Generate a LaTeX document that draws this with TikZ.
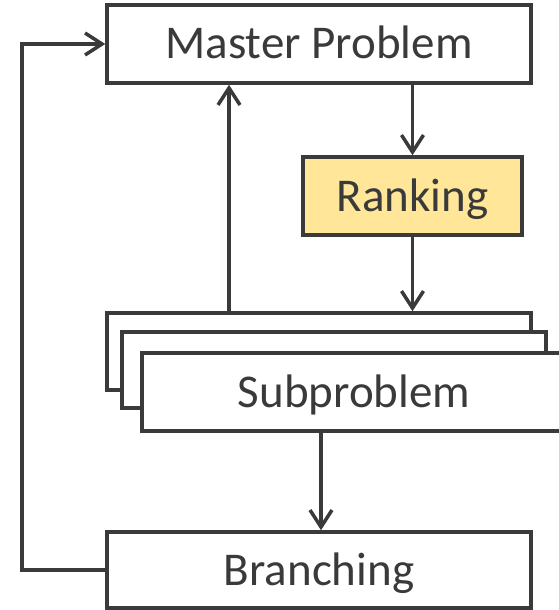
\documentclass[tikz,border=0pt]{standalone}
\usepackage{fontspec}
\setmainfont{Carlito}
\usetikzlibrary{arrows.meta}
\definecolor{ink}{HTML}{3A3A3A}
\definecolor{gold}{HTML}{FFE699}
\tikzset{
  box/.style={draw=ink, line width=3.5pt, fill=white, rectangle, inner sep=0pt,
    minimum width=424pt, minimum height=78pt, text=ink,
    font=\fontsize{47}{56}\selectfont, text height=30pt, text depth=0pt},
  arr/.style={draw=ink, line width=3.5pt, -{Straight Barb[length=17pt,width=22pt]}},
  conn/.style={draw=ink, line width=3.5pt}
}
\begin{document}
\begin{tikzpicture}[x=1pt,y=-1pt]
\clip (0,0) rectangle (559,610);
\fill[white] (0,0) rectangle (559,610);
\node[box] (master) at (319,44) {Master Problem};
\node[box, fill=gold, minimum width=219pt] (ranking) at (412.5,196) {Ranking};
\node[box, minimum height=77pt] (sub3) at (319,351.5) {};
\node[box, minimum height=76pt] (sub2) at (334,370) {};
\node[box] (sub1) at (354,392) {Subproblem};
\node[box, minimum height=76pt] (branch) at (319,570) {Branching};
\coordinate (ux) at (229,0);
\coordinate (dx) at (321,0);
\coordinate (lx) at (22,0);
\draw[arr] (ranking.north |- master.south) -- (ranking.north);
\draw[arr] (ranking.south) -- (ranking.south |- sub3.north);
\draw[arr] (ux |- sub3.north) -- (ux |- master.south);
\draw[arr] (dx |- sub1.south) -- (dx |- branch.north);
\draw[arr] (branch.west) -- (branch.west -| lx) -- (master.west -| lx) -- (master.west);
\end{tikzpicture}
\end{document}
